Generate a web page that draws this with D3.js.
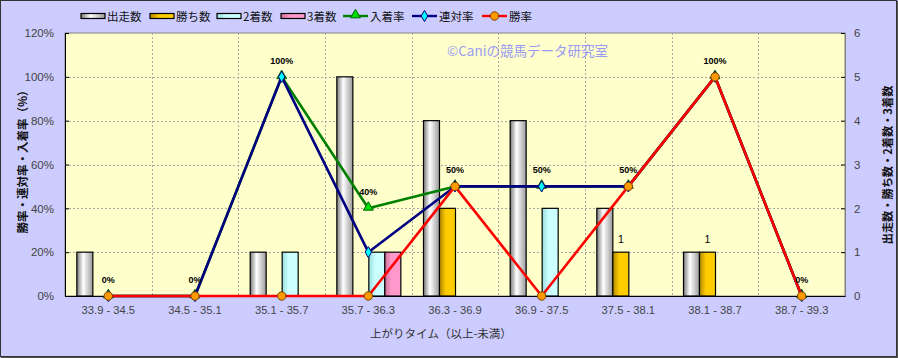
<!DOCTYPE html>
<html><head><meta charset="utf-8">
<script src="https://cdn.jsdelivr.net/npm/d3@7/dist/d3.min.js"></script>
<style>
html,body{margin:0;padding:0;background:#CCCCFF;}
svg{display:block;}
</style></head>
<body><svg id="c" width="898" height="358"></svg>
<script>
const categories = ["33.9 - 34.5","34.5 - 35.1","35.1 - 35.7","35.7 - 36.3","36.3 - 36.9","36.9 - 37.5","37.5 - 38.1","38.1 - 38.7","38.7 - 39.3"];
const runners = [1,0,1,5,4,4,2,1,0];
const wins    = [0,0,0,0,2,0,1,1,0];
const seconds = [0,0,1,1,0,2,0,0,0];
const thirds  = [0,0,0,1,0,0,0,0,0];
const placeRate   = [0,0,100,40,50,50,50,100,0];
const rentaiRate  = [0,0,100,20,50,50,50,100,0];
const winRate     = [0,0,0,0,50,0,50,100,0];
const winLabels   = ["","","","","","","1","1",""];
const leftTicks  = [0,20,40,60,80,100,120];
const rightTicks = [0,1,2,3,4,5,6];
const barNames = ["出走数","勝ち数","2着数","3着数"];
const lineNames = ["入着率","連対率","勝率"];
const leftTitle = "勝率・連対率・入着率（%）";
const rightTitle = "出走数・勝ち数・2着数・3着数";
const xTitle = "上がりタイム（以上-未満）";
const watermark = "©Caniの競馬データ研究室";

const W=898,H=358, L=65, R=845, T=33, B=296;
const svg = d3.select("#c");
const defs = svg.append("defs");
function grad(id, edgeL, mid, edgeR){
  const g = defs.append("linearGradient").attr("id",id).attr("x1","0").attr("x2","1").attr("y1","0").attr("y2","0");
  g.append("stop").attr("offset","0%").attr("stop-color",edgeL);
  g.append("stop").attr("offset","40%").attr("stop-color",mid);
  g.append("stop").attr("offset","100%").attr("stop-color",edgeR);
}
grad("gRun","#7a7a7a","#ffffff","#9a9a9a");
grad("gWin","#b08800","#FFCC00","#FFCC00");
grad("g2","#9adede","#CCFFFF","#CCFFFF");
grad("g3","#cc6f9a","#FF99CC","#FF99CC");
const barFills = ["url(#gRun)","url(#gWin)","url(#g2)","url(#g3)"];
const barData = [runners,wins,seconds,thirds];

// background + border
svg.append("rect").attr("x",0).attr("y",0).attr("width",W).attr("height",H).attr("fill","#CCCCFF");
svg.append("rect").attr("x",0.5).attr("y",0.5).attr("width",W-2).attr("height",H-2).attr("fill","none").attr("stroke","#333");
svg.append("line").attr("x1",W-0.5).attr("x2",W-0.5).attr("y1",1).attr("y2",H).attr("stroke","#555");
svg.append("line").attr("x1",1).attr("x2",W).attr("y1",H-0.5).attr("y2",H-0.5).attr("stroke","#555");

const x = d3.scaleBand().domain(categories).range([L,R]).padding(0);
const yL = d3.scaleLinear().domain([0,120]).range([B,T]);
const yR = d3.scaleLinear().domain([0,6]).range([B,T]);
const sub = d3.scaleBand().domain(barNames).range([-31.5,32.5]);
const cx = (c)=> x(c)+x.bandwidth()/2;

// plot area
svg.append("rect").attr("x",L).attr("y",T).attr("width",R-L).attr("height",B-T).attr("fill","#FFFFCC").attr("stroke","#808080");

// grid
const grid = svg.append("g").attr("stroke","#aaa").attr("stroke-dasharray","2,2").attr("stroke-width",1);
leftTicks.filter(v=>v>0&&v<120).forEach(v=>{
  grid.append("line").attr("x1",L).attr("x2",R).attr("y1",Math.round(yL(v))+0.5).attr("y2",Math.round(yL(v))+0.5);
});
categories.slice(1).forEach(c=>{
  grid.append("line").attr("x1",Math.round(x(c))+0.5).attr("x2",Math.round(x(c))+0.5).attr("y1",T).attr("y2",B);
});

// watermark
svg.append("text").attr("x",447).attr("y",55.5).attr("font-family","'Noto Sans CJK JP',sans-serif").attr("font-size",13.5).attr("fill","#9a9aF5").text(watermark);

// bars
barNames.forEach((name,k)=>{
  svg.append("g").selectAll("rect").data(categories.map((c,i)=>({c,v:barData[k][i]})).filter(d=>d.v>0))
    .join("rect")
    .attr("x",d=>cx(d.c)+sub(name)).attr("width",sub.bandwidth())
    .attr("y",d=>yR(d.v)).attr("height",d=>B-yR(d.v))
    .attr("fill",barFills[k]).attr("stroke","#000").attr("stroke-width",1.2);
});

// axes
const axL = svg.append("g").attr("transform",`translate(${L},0)`)
  .call(d3.axisLeft(yL).tickValues(leftTicks).tickFormat(d=>d+"%").tickSizeInner(-4).tickSizeOuter(0).tickPadding(11));
const axR = svg.append("g").attr("transform",`translate(${R},0)`)
  .call(d3.axisRight(yR).tickValues(rightTicks).tickFormat(d3.format("d")).tickSizeInner(-4).tickSizeOuter(0).tickPadding(9));
const axB = svg.append("g").attr("transform",`translate(0,${B})`)
  .call(d3.axisBottom(x).tickSize(0).tickPadding(10));
[axL,axR,axB].forEach(a=>{
  a.selectAll("text").attr("font-family","'Liberation Sans',Arial,sans-serif").attr("font-size",11.5).attr("fill","#444");
  a.selectAll(".tick line").attr("stroke","#000");
});
axR.select(".domain").attr("stroke","#808080");
axL.select(".domain").attr("stroke","#000");
axB.select(".domain").attr("stroke","#000");
axB.selectAll("text").attr("font-size",11.2);

// lines
const lineData = [placeRate,rentaiRate,winRate];
const lineColors = ["#008000","#000080","#FF0000"];
const line = d3.line().x(d=>cx(d.c)).y(d=>yL(d.v));
function marker(g,k,px,py){
  if(k===0){
    g.append("path").attr("d",d3.symbol().type(d3.symbolTriangle).size(42)()).attr("transform",`translate(${px},${py-1})`)
      .attr("fill","#00E000").attr("stroke","#006000").attr("stroke-width",1);
  } else if(k===1){
    g.append("path").attr("d",d3.symbol().type(d3.symbolDiamond).size(36)()).attr("transform",`translate(${px},${py})`)
      .attr("fill","#00FFFF").attr("stroke","#000080").attr("stroke-width",1);
  } else {
    g.append("circle").attr("cx",px).attr("cy",py).attr("r",4.2).attr("fill","#FF9900").attr("stroke","#7a4000").attr("stroke-width",1);
  }
}
lineData.forEach((arr,k)=>{
  const pts = categories.map((c,i)=>({c,v:arr[i]}));
  const g = svg.append("g");
  g.append("path").datum(pts).attr("d",line).attr("fill","none").attr("stroke",lineColors[k]).attr("stroke-width",2.6).attr("stroke-linejoin","round");
  pts.forEach(p=>marker(g,k,cx(p.c),yL(p.v)));
});

// data labels (入着率)
svg.append("g").selectAll("text").data(categories.map((c,i)=>({c,v:placeRate[i]}))).join("text")
  .attr("x",d=>cx(d.c)).attr("y",d=>yL(d.v)-13).attr("text-anchor","middle")
  .attr("font-family","'Liberation Sans',Arial,sans-serif").attr("font-weight","bold").attr("font-size",9).attr("fill","#000")
  .text(d=>d.v+"%");
// win count labels
svg.append("g").selectAll("text").data(categories.map((c,i)=>({c,v:wins[i],t:winLabels[i]})).filter(d=>d.t!=="")).join("text")
  .attr("x",d=>cx(d.c)+sub("勝ち数")+sub.bandwidth()/2).attr("y",d=>yR(d.v)-9).attr("text-anchor","middle")
  .attr("font-family","'Liberation Sans',Arial,sans-serif").attr("font-size",10.5).attr("fill","#000")
  .text(d=>d.t);

// axis titles
svg.append("text").attr("transform","translate(27,159) rotate(-90)").attr("text-anchor","middle")
  .attr("font-family","'Noto Sans CJK JP',sans-serif").attr("font-weight","bold").attr("font-size",11.5).attr("fill","#111").text(leftTitle);
svg.append("text").attr("transform","translate(892,165) rotate(-90)").attr("text-anchor","middle")
  .attr("font-family","'Noto Sans CJK JP',sans-serif").attr("font-weight","bold").attr("font-size",11.2).attr("fill","#111").text(rightTitle);
svg.append("text").attr("x",441).attr("y",338).attr("text-anchor","middle")
  .attr("font-family","'Noto Sans CJK JP',sans-serif").attr("font-size",11.5).attr("fill","#333").text(xTitle);

// legend
const leg = svg.append("g");
const legBarX = [81,150,217,281];
barNames.forEach((n,k)=>{
  leg.append("rect").attr("x",legBarX[k]).attr("y",13.5).attr("width",24).attr("height",5).attr("fill",barFills[k]).attr("stroke","#000").attr("stroke-width",1.2);
  leg.append("text").attr("x",legBarX[k]+26).attr("y",20.5).attr("font-family","'Noto Sans CJK JP',sans-serif").attr("font-size",11.5).attr("fill","#111").text(n);
});
const legLineX = [343,412,482];
lineNames.forEach((n,k)=>{
  leg.append("line").attr("x1",legLineX[k]).attr("x2",legLineX[k]+25).attr("y1",16).attr("y2",16).attr("stroke",lineColors[k]).attr("stroke-width",2.4);
  marker(leg,k,legLineX[k]+12.5,16);
  leg.append("text").attr("x",legLineX[k]+27).attr("y",20.5).attr("font-family","'Noto Sans CJK JP',sans-serif").attr("font-size",11.5).attr("fill","#111").text(n);
});
</script></body></html>
